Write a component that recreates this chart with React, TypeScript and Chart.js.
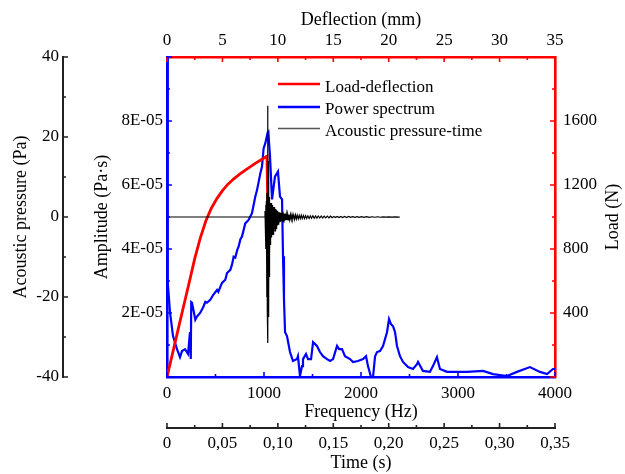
import { useEffect, useRef } from 'react';
import { Chart, registerables } from 'chart.js';

Chart.register(...registerables);

const FONT = "'Liberation Serif', 'Times New Roman', serif";
const RED = '#ff0000';
const BLUE = '#0000ff';
const DARK = '#222222';

// Load-deflection (deflection mm, load N)
const deflection = [0, 0.5, 1.0, 1.5, 2.0, 2.5, 3.0, 3.5, 4.0, 4.5, 5.0, 5.5, 6.0, 6.5, 7.0, 7.5, 8.0, 8.5, 8.9, 9.02, 9.05, 9.08];
const load = [0, 148, 296, 444, 590, 740, 868, 975, 1055, 1115, 1165, 1205, 1237, 1265, 1290, 1313, 1337, 1358, 1375, 1380, 1250, 1075];

// Power spectrum (frequency Hz, amplitude Pa·s)
const frequency = [0, 5, 10, 31, 62, 103, 134, 155, 186, 217, 237, 245, 250, 258, 292, 309, 343, 374, 395, 412, 446, 477, 516, 529, 567, 601, 619, 653, 670, 687, 704, 725, 738, 756, 773, 807, 841, 876, 910, 928, 962, 979, 996, 1013, 1037, 1045, 1062, 1083, 1113, 1144, 1165, 1186, 1196, 1206, 1217, 1237, 1268, 1299, 1340, 1350, 1371, 1392, 1402, 1433, 1454, 1485, 1506, 1546, 1577, 1608, 1650, 1681, 1712, 1753, 1774, 1804, 1835, 1887, 1918, 1969, 2021, 2052, 2072, 2103, 2124, 2145, 2165, 2196, 2227, 2268, 2289, 2309, 2330, 2351, 2371, 2402, 2433, 2485, 2536, 2577, 2588, 2639, 2711, 2742, 2783, 2814, 2887, 3093, 3258, 3361, 3505, 3608, 3742, 3845, 3918, 3979, 4000];
const amplitude = [10.0e-5, 5.0e-5, 2.96e-5, 2.02e-5, 1.28e-5, 0.87e-5, 0.62e-5, 0.81e-5, 0.87e-5, 0.72e-5, 1.40e-5, 0.56e-5, 2.34e-5, 2.32e-5, 1.79e-5, 1.89e-5, 2.01e-5, 2.19e-5, 2.35e-5, 2.32e-5, 2.41e-5, 2.57e-5, 2.72e-5, 2.66e-5, 2.94e-5, 3.04e-5, 3.25e-5, 3.35e-5, 3.51e-5, 3.76e-5, 3.73e-5, 3.98e-5, 4.07e-5, 4.30e-5, 4.39e-5, 4.80e-5, 4.91e-5, 5.12e-5, 5.63e-5, 5.84e-5, 6.36e-5, 6.57e-5, 7.14e-5, 7.30e-5, 7.63e-5, 7.66e-5, 6.88e-5, 5.55e-5, 6.26e-5, 6.42e-5, 5.64e-5, 5.55e-5, 3.77e-5, 2.43e-5, 1.40e-5, 1.28e-5, 0.78e-5, 0.50e-5, 0.56e-5, 0.65e-5, 0.03e-5, 0.34e-5, 0.56e-5, 0.72e-5, 0.56e-5, 0.56e-5, 1.09e-5, 0.97e-5, 0.78e-5, 0.65e-5, 0.56e-5, 0.50e-5, 0.56e-5, 0.97e-5, 0.87e-5, 0.87e-5, 0.65e-5, 0.56e-5, 0.47e-5, 0.50e-5, 0.56e-5, 0.65e-5, 0.34e-5, 0.0, 0.0, 0.65e-5, 0.78e-5, 0.81e-5, 0.97e-5, 1.40e-5, 1.81e-5, 1.65e-5, 1.59e-5, 1.40e-5, 0.97e-5, 0.65e-5, 0.47e-5, 0.31e-5, 0.25e-5, 0.40e-5, 0.47e-5, 0.19e-5, 0.16e-5, 0.34e-5, 0.62e-5, 0.25e-5, 0.16e-5, 0.16e-5, 0.19e-5, 0.09e-5, 0.03e-5, 0.16e-5, 0.31e-5, 0.16e-5, 0.09e-5, 0.25e-5, 0.25e-5];

// Acoustic pressure-time (time s, pressure Pa)
const acTime = [0, 0.0880, 0.0884, 0.0887, 0.0890, 0.0893, 0.0896, 0.0899, 0.0902, 0.0905, 0.0907, 0.0909, 0.0911, 0.0913, 0.0915, 0.0917, 0.0919, 0.0921, 0.0923, 0.0925, 0.0927, 0.0930, 0.0933, 0.0936, 0.0939, 0.0942, 0.0945, 0.0948, 0.0951, 0.0954, 0.0957, 0.0960, 0.0963, 0.0966, 0.0969, 0.0972, 0.0975, 0.0978, 0.0981, 0.0984, 0.0987, 0.0990, 0.0994, 0.0998, 0.1002, 0.1006, 0.1010, 0.1014, 0.1018, 0.1022, 0.1026, 0.1030, 0.1034, 0.1038, 0.1042, 0.1046, 0.1050, 0.1055, 0.1060, 0.1065, 0.1070, 0.1076, 0.1082, 0.1088, 0.1094, 0.1100, 0.1107, 0.1114, 0.1121, 0.1128, 0.1135, 0.1143, 0.1151, 0.1159, 0.1167, 0.1175, 0.1184, 0.1193, 0.1202, 0.1211, 0.1220, 0.1230, 0.1240, 0.1250, 0.1260, 0.1271, 0.1282, 0.1293, 0.1304, 0.1316, 0.1328, 0.1340, 0.1352, 0.1365, 0.1378, 0.1391, 0.1404, 0.1418, 0.1432, 0.1446, 0.1460, 0.1475, 0.1490, 0.1505, 0.1520, 0.1536, 0.1552, 0.1568, 0.1585, 0.1602, 0.1620, 0.1638, 0.1656, 0.1675, 0.1695, 0.1715, 0.1735, 0.1756, 0.1777, 0.1800, 0.1825, 0.1850, 0.1875, 0.1900, 0.1925, 0.1950, 0.1975, 0.2000, 0.2030, 0.2060, 0.2090, 0.2100];
const acPressure = [0, 0, 1.5, -2.5, 3, -8, 4, -20, 6, -24, 12, 27.8, -31.5, 14, -25, 7, -20, 5, -15, 4, -10, 3.5, -7, 3, -5, 3.5, -4, 2.5, -4.5, 3, -3.5, 2.5, -4.5, 2, -3, 2.5, -3.5, 2, -2.5, 1.8, -3, 1.5, -2, 1.5, -1.8, 1.2, -1.5, 1.2, -1.3, 1, -1.2, 1, -1, 0.9, -1.1, 1.3, -1.2, 0.9, -0.9, 0.8, -0.8, 0.7, -0.8, 0.7, -0.7, 0.6, -0.7, 0.6, -0.6, 0.6, -0.5, 0.5, -0.6, 0.5, -0.5, 0.45, -0.5, 0.4, -0.4, 0.45, -0.4, 0.35, -0.4, 0.35, -0.35, 0.3, -0.35, 0.3, -0.3, 0.3, -0.3, 0.25, -0.3, 0.25, -0.25, 0.25, -0.25, 0.2, -0.2, 0.2, -0.2, 0.2, -0.2, 0.15, -0.15, 0.15, -0.15, 0.15, -0.12, 0.12, -0.12, 0.12, -0.1, 0.1, -0.1, 0.1, -0.1, 0.08, -0.08, 0.08, -0.08, 0.06, -0.06, 0.06, -0.06, 0.05, -0.05, 0.05, -0.05, 0.04, -0.04, 0];

const tickFont = { family: FONT, size: 17 };
const titleFont = { family: FONT, size: 18 };

const legendOrder = [0, 1, 2];

const inwardTicks = {
  id: 'inwardTicks',
  afterDraw(chart: any) {
    const ctx = chart.ctx;
    const specs: any[] = [
      { id: 'xDef', color: RED, side: 'top' },
      { id: 'xFreq', color: BLUE, side: 'bottom' },
      { id: 'xTime', color: DARK, side: 'bottom' },
      { id: 'yAmp', color: BLUE, side: 'left' },
      { id: 'yAc', color: DARK, side: 'left' },
      { id: 'yLoad', color: RED, side: 'right' },
    ];
    ctx.save();
    for (const s of specs) {
      const sc = chart.scales[s.id];
      const vals = sc.ticks.map((t: any) => t.value);
      const marks: [number, number][] = [];
      for (let i = 0; i < vals.length; i++) {
        marks.push([vals[i], 5]);
        if (i < vals.length - 1) marks.push([(vals[i] + vals[i + 1]) / 2, 3]);
      }
      ctx.strokeStyle = s.color;
      ctx.lineWidth = 1.6;
      ctx.beginPath();
      for (const [v, len] of marks) {
        const p = sc.getPixelForValue(v);
        if (s.side === 'top') { ctx.moveTo(p, sc.bottom); ctx.lineTo(p, sc.bottom + len); }
        else if (s.side === 'bottom') { ctx.moveTo(p, sc.top); ctx.lineTo(p, sc.top - len); }
        else if (s.side === 'left') { ctx.moveTo(sc.right, p); ctx.lineTo(sc.right + len, p); }
        else { ctx.moveTo(sc.left, p); ctx.lineTo(sc.left - len, p); }
      }
      ctx.stroke();
    }
    // Load axis title (reads bottom to top)
    const yl = chart.scales.yLoad;
    ctx.fillStyle = '#000';
    ctx.font = `18px ${FONT}`;
    ctx.translate(613, (yl.top + yl.bottom) / 2);
    ctx.rotate(-Math.PI / 2);
    ctx.textAlign = 'center';
    ctx.textBaseline = 'middle';
    ctx.fillText('Load (N)', 0, 0);
    ctx.restore();

    // Legend inside plot
    ctx.save();
    ctx.font = `17px ${FONT}`;
    ctx.textAlign = 'left';
    ctx.textBaseline = 'alphabetic';
    const lineY = [84, 107, 128.5];
    const textY = [91.5, 113.5, 135.5];
    legendOrder.forEach((di, row) => {
      const ds = chart.data.datasets[di];
      ctx.strokeStyle = ds.legendColor || ds.borderColor;
      ctx.lineWidth = ds.legendWidth || ds.borderWidth;
      ctx.beginPath();
      ctx.moveTo(278, lineY[row]);
      ctx.lineTo(320, lineY[row]);
      ctx.stroke();
      ctx.fillStyle = '#000';
      ctx.fillText(ds.label, 325, textY[row]);
    });
    ctx.restore();
  },
};

export default function App() {
  const ref = useRef<HTMLCanvasElement>(null);
  useEffect(() => {
    const baseTicks = { font: tickFont, color: '#000', autoSkip: false, maxRotation: 0, minRotation: 0 };
    const noGrid = { display: false, drawTicks: false };
    const chart = new Chart(ref.current as HTMLCanvasElement, {
      type: 'scatter',
      data: {
        datasets: [
          {
            label: 'Load-deflection',
            data: deflection.map((x, i) => ({ x, y: load[i] })),
            xAxisID: 'xDef', yAxisID: 'yLoad',
            borderColor: RED, borderWidth: 2.8, showLine: true, pointRadius: 0, order: 1,
            legendWidth: 2.6,
          } as any,
          {
            label: 'Power spectrum',
            data: frequency.map((x, i) => ({ x, y: amplitude[i] })),
            xAxisID: 'xFreq', yAxisID: 'yAmp',
            borderColor: BLUE, borderWidth: 2.2, showLine: true, pointRadius: 0, order: 2,
            legendWidth: 2.4,
          } as any,
          {
            label: 'Acoustic pressure-time',
            data: acTime.map((x, i) => ({ x, y: acPressure[i] })),
            xAxisID: 'xTime', yAxisID: 'yAc',
            borderColor: '#000', borderWidth: 1.2, showLine: true, pointRadius: 0, order: 0,
            legendColor: '#555', legendWidth: 1.4,
          } as any,
        ],
      },
      options: {
        animation: false,
        responsive: true,
        maintainAspectRatio: false,
        devicePixelRatio: 1,
        events: [],
        layout: { padding: 0 },
        plugins: { legend: { display: false }, tooltip: { enabled: false } },
        scales: {
          xDef: {
            type: 'linear', position: 'top', min: 0, max: 35, weight: 0,
            afterFit: (s: any) => { s.height = 57; },
            grid: noGrid,
            border: { display: true, color: RED, width: 2.6 },
            ticks: { ...baseTicks, stepSize: 5, padding: 6, callback: (v: any) => String(v) },
            title: { display: true, text: 'Deflection (mm)', font: titleFont, color: '#000', padding: { top: 9.6, bottom: 0 } },
          },
          xFreq: {
            type: 'linear', position: 'bottom', min: 0, max: 4000, weight: 0,
            afterFit: (s: any) => { s.height = 51; },
            grid: noGrid,
            border: { display: true, color: BLUE, width: 2.6 },
            ticks: { ...baseTicks, stepSize: 1000, padding: 6, callback: (v: any) => String(v) },
            title: { display: true, text: 'Frequency (Hz)', font: titleFont, color: '#000', padding: { top: 0, bottom: 4.8 } },
          },
          xTime: {
            type: 'linear', position: 'bottom', min: 0, max: 0.35, weight: 1,
            afterFit: (s: any) => { s.height = 46; },
            grid: noGrid,
            border: { display: true, color: DARK, width: 2 },
            ticks: {
              ...baseTicks, stepSize: 0.05, padding: 5,
              callback: (v: any) => { const n = Number(v); return Math.abs(n) < 1e-9 ? '0' : n.toFixed(2).replace('.', ','); },
            },
            title: { display: true, text: 'Time (s)', font: titleFont, color: '#000', padding: { top: 0, bottom: 0 } },
          },
          yAmp: {
            type: 'linear', position: 'left', min: 0, max: 1e-4, weight: 0,
            afterFit: (s: any) => { s.width = 104; },
            grid: noGrid,
            border: { display: true, color: BLUE, width: 2.6 },
            ticks: {
              ...baseTicks, stepSize: 2e-5, padding: 4,
              callback: (v: any) => { const n = Math.round(Number(v) * 1e5); return n <= 0 || n >= 10 ? '' : n + 'E-05'; },
            },
            title: { display: true, text: 'Amplitude (Pa·s)', font: titleFont, color: '#000', padding: { top: 28.6, bottom: 0 } },
          },
          yAc: {
            type: 'linear', position: 'left', min: -40, max: 40, weight: 1,
            afterFit: (s: any) => { s.width = 63; },
            grid: noGrid,
            border: { display: true, color: DARK, width: 2 },
            ticks: { ...baseTicks, stepSize: 20, padding: 4, callback: (v: any) => String(v) },
            title: { display: true, text: 'Acoustic pressure (Pa)', font: titleFont, color: '#000', padding: { top: 10.6, bottom: 0 } },
          },
          yLoad: {
            type: 'linear', position: 'right', min: 0, max: 2000, weight: 0,
            afterFit: (s: any) => { s.width = 70; },
            grid: noGrid,
            border: { display: true, color: RED, width: 2.6 },
            ticks: {
              ...baseTicks, stepSize: 400, padding: 8,
              callback: (v: any) => { const n = Number(v); return n <= 0 || n >= 2000 ? '' : String(n); },
            },
            title: { display: false },
          },
        } as any,
      },
      plugins: [inwardTicks],
    });
    return () => chart.destroy();
  }, []);
  return (
    <div style={{ position: 'absolute', left: 0, top: 0, width: 625, height: 474 }}>
      <canvas ref={ref} />
    </div>
  );
}
